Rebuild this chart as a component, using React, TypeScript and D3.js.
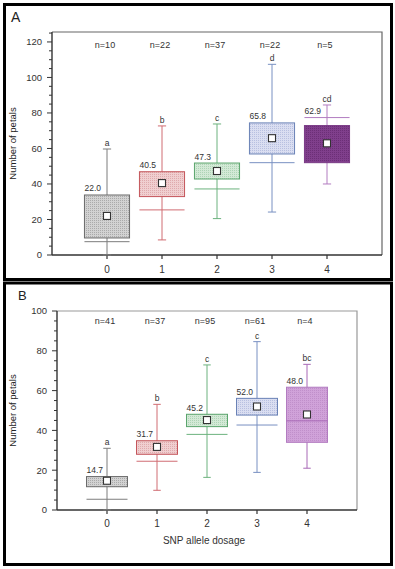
import * as d3 from "d3";
import { useRef, useEffect } from "react";

// dosage groups
const dosage = [0, 1, 2, 3, 4];

// panel A
const nA = [10, 22, 37, 22, 5];
const meanA = [22.0, 40.5, 47.3, 65.8, 62.9];
const boxLowA = [9.6, 32.9, 42.8, 56.9, 52];
const boxHighA = [33.8, 46.9, 51.8, 74.4, 72.9];
const lineA = [7.5, 25.4, 37.2, 52, 77.4];
const whiskLowA = [0, 8.5, 20.5, 24.2, 40];
const whiskHighA = [59.7, 72.7, 73.8, 107.4, 84.5];
const lettersA = ["a", "b", "c", "d", "cd"];

// panel B
const nB = [41, 37, 95, 61, 4];
const meanB = [14.7, 31.7, 45.2, 52.0, 48.0];
const boxLowB = [11.7, 28, 41.9, 47.7, 34];
const boxHighB = [16.8, 34.8, 48.1, 56.1, 61.7];
const lineB = [5.4, 24.5, 38, 42.7, 44.8];
const whiskLowB = [0, 9.9, 16.4, 18.9, 21];
const whiskHighB = [31, 53.1, 72.9, 84.6, 73.2];
const lettersB = ["a", "b", "c", "c", "bc"];

const yTicksA = [0, 20, 40, 60, 80, 100, 120];
const yTicksB = [0, 20, 40, 60, 80, 100];

const FONT = "'Liberation Sans', Arial, sans-serif";

const strokeCols = ["#6b6b6b", "#c4555b", "#5ba56d", "#6a82b6"];
const lineCols = ["#7d7d7d", "#d06c72", "#6cb27e", "#7890c2"];
const fillCols = ["#d2d2d2", "#f0cfd0", "#d3e9d6", "#dadef1"];
const dotCols = ["#aaaaaa", "#dfaaad", "#aed4b6", "#b8c0e0"];

const drawPanel = (svg, id, cfg) => {
    const x = d3.scaleLinear().domain([-1, 5]).range([cfg.left, cfg.right]);
    const y = d3.scaleLinear().domain([0, cfg.yMax]).range([cfg.bottom, cfg.top]);
    const g = svg.append("g");

    // patterns
    const defs = svg.append("defs");
    cfg.fills.forEach((c, i) => {
        const p = defs.append("pattern")
            .attr("id", `${id}-p${i}`)
            .attr("width", 2).attr("height", 2)
            .attr("patternUnits", "userSpaceOnUse");
        p.append("rect").attr("width", 2).attr("height", 2).attr("fill", c);
        p.append("rect").attr("width", 1).attr("height", 1).attr("fill", cfg.dots[i]);
    });

    // panel frame
    g.append("rect")
        .attr("x", cfg.frame[0]).attr("y", cfg.frame[1])
        .attr("width", cfg.frame[2]).attr("height", cfg.frame[3])
        .attr("fill", "none").attr("stroke", "#000").attr("stroke-width", 3);

    g.append("text")
        .attr("x", cfg.labelPos[0]).attr("y", cfg.labelPos[1])
        .attr("font-family", FONT).attr("font-size", cfg.labelSize).attr("fill", "#222")
        .text(cfg.label);

    // plot box top/right
    g.append("path")
        .attr("d", `M${cfg.left},${cfg.top}H${cfg.right}V${cfg.bottom}`)
        .attr("fill", "none").attr("stroke", cfg.frameCol).attr("stroke-width", 1.2);

    // y axis
    const ya = g.append("g").attr("transform", `translate(${cfg.left},0)`);
    ya.append("line").attr("y1", cfg.top).attr("y2", cfg.bottom)
        .attr("stroke", "#333").attr("stroke-width", 1.4);
    d3.range(0, cfg.yMax + 0.01, 5).forEach(v => {
        const major = v % 20 === 0;
        ya.append("line").attr("x1", major ? -5 : -3).attr("x2", 0)
            .attr("y1", y(v)).attr("y2", y(v))
            .attr("stroke", "#333").attr("stroke-width", 1);
    });
    cfg.yTicks.forEach(v => {
        ya.append("text").attr("x", -10).attr("y", y(v)).attr("dy", "0.35em")
            .attr("text-anchor", "end").attr("font-family", FONT)
            .attr("font-size", 9.5).attr("fill", "#333").text(v);
    });
    g.append("text")
        .attr("transform", `translate(${cfg.yLabelX},${(cfg.top + cfg.bottom) / 2}) rotate(-90)`)
        .attr("text-anchor", "middle").attr("font-family", FONT)
        .attr("font-size", 9.5).attr("fill", "#222").text("Number of petals");

    // x axis
    const xa = g.append("g").attr("transform", `translate(0,${cfg.bottom})`);
    xa.append("line").attr("x1", cfg.left).attr("x2", cfg.right)
        .attr("stroke", "#333").attr("stroke-width", 1.4);
    dosage.forEach(d => {
        xa.append("line").attr("x1", x(d)).attr("x2", x(d)).attr("y1", 0).attr("y2", 4)
            .attr("stroke", "#333").attr("stroke-width", 1.2);
        xa.append("text").attr("x", x(d)).attr("y", cfg.xTickY - cfg.bottom)
            .attr("text-anchor", "middle").attr("font-family", FONT)
            .attr("font-size", 10).attr("fill", "#333").text(d);
    });

    const hw = x(0.41) - x(0);
    const cw = x(0.075) - x(0);

    dosage.forEach((d, i) => {
        const cx = x(d);
        const lc = cfg.lineCols[i];
        // whisker
        g.append("line").attr("x1", cx).attr("x2", cx)
            .attr("y1", y(cfg.whiskLow[i])).attr("y2", y(cfg.whiskHigh[i]))
            .attr("stroke", lc).attr("stroke-width", 1);
        [cfg.whiskLow[i], cfg.whiskHigh[i]].forEach(v => {
            g.append("line").attr("x1", cx - cw).attr("x2", cx + cw)
                .attr("y1", y(v)).attr("y2", y(v))
                .attr("stroke", lc).attr("stroke-width", 1);
        });
        // box
        g.append("rect")
            .attr("x", cx - hw).attr("y", y(cfg.boxHigh[i]))
            .attr("width", hw * 2).attr("height", y(cfg.boxLow[i]) - y(cfg.boxHigh[i]))
            .attr("fill", `url(#${id}-p${i})`)
            .attr("stroke", cfg.strokes[i]).attr("stroke-width", 1);
        // wide line
        g.append("line").attr("x1", cx - hw).attr("x2", cx + hw)
            .attr("y1", y(cfg.line[i])).attr("y2", y(cfg.line[i]))
            .attr("stroke", lc).attr("stroke-width", 1);
        // mean square
        g.append("rect")
            .attr("x", cx - 3.5).attr("y", y(cfg.mean[i]) - 3.5)
            .attr("width", 7).attr("height", 7)
            .attr("fill", "#fff").attr("stroke", "#333").attr("stroke-width", 1.1);
        // mean label
        const topV = Math.max(cfg.boxHigh[i], cfg.line[i]);
        g.append("text")
            .attr("x", cx - hw).attr("y", y(topV) - 3.5)
            .attr("font-family", FONT).attr("font-size", 8.5).attr("fill", "#333")
            .text(cfg.mean[i].toFixed(1));
        // letter
        g.append("text")
            .attr("x", cx).attr("y", y(cfg.whiskHigh[i]) - 3)
            .attr("text-anchor", "middle")
            .attr("font-family", FONT).attr("font-size", 8.5).attr("fill", "#333")
            .text(cfg.letters[i]);
        // n label
        g.append("text")
            .attr("x", cx - 2).attr("y", cfg.nY)
            .attr("text-anchor", "middle")
            .attr("font-family", FONT).attr("font-size", 9).attr("fill", "#333")
            .text(`n=${cfg.n[i]}`);
    });
};

const App = () => {
    const chartRef = useRef(null);

    useEffect(() => {
        const svg = d3.select(chartRef.current);
        svg.selectAll("*").remove();

        drawPanel(svg, "A", {
            frame: [4.5, 4.5, 387, 275],
            label: "A", labelPos: [11, 22], labelSize: 14,
            left: 52, right: 382, top: 32, bottom: 255, yMax: 125.6,
            yTicks: yTicksA, yLabelX: 16, xTickY: 273, nY: 48, frameCol: "#666",
            n: nA, mean: meanA, boxLow: boxLowA, boxHigh: boxHighA, line: lineA,
            whiskLow: whiskLowA, whiskHigh: whiskHighA, letters: lettersA,
            strokes: [...strokeCols, "#7a3a86"],
            lineCols: [...lineCols, "#b27cc0"],
            fills: [...fillCols, "#803f8c"],
            dots: [...dotCols, "#6c2f77"],
        });

        drawPanel(svg, "B", {
            frame: [4.5, 283, 387, 281.5],
            label: "B", labelPos: [18, 300], labelSize: 13,
            left: 57, right: 357, top: 311, bottom: 510, yMax: 100,
            yTicks: yTicksB, yLabelX: 16, xTickY: 527, nY: 324, frameCol: "#999",
            n: nB, mean: meanB, boxLow: boxLowB, boxHigh: boxHighB, line: lineB,
            whiskLow: whiskLowB, whiskHigh: whiskHighB, letters: lettersB,
            strokes: [...strokeCols, "#b27cc0"],
            lineCols: [...lineCols, "#a868b6"],
            fills: [...fillCols, "#d0a2d9"],
            dots: [...dotCols, "#c08fca"],
        });

        svg.append("text")
            .attr("x", 204).attr("y", 544)
            .attr("text-anchor", "middle").attr("font-family", FONT)
            .attr("font-size", 10).attr("fill", "#333").text("SNP allele dosage");
    }, []);

    return (
        <svg ref={chartRef} width={395} height={569}
            style={{ position: "absolute", left: 0, top: 0, background: "#fff" }}></svg>
    );
};

export default App;
